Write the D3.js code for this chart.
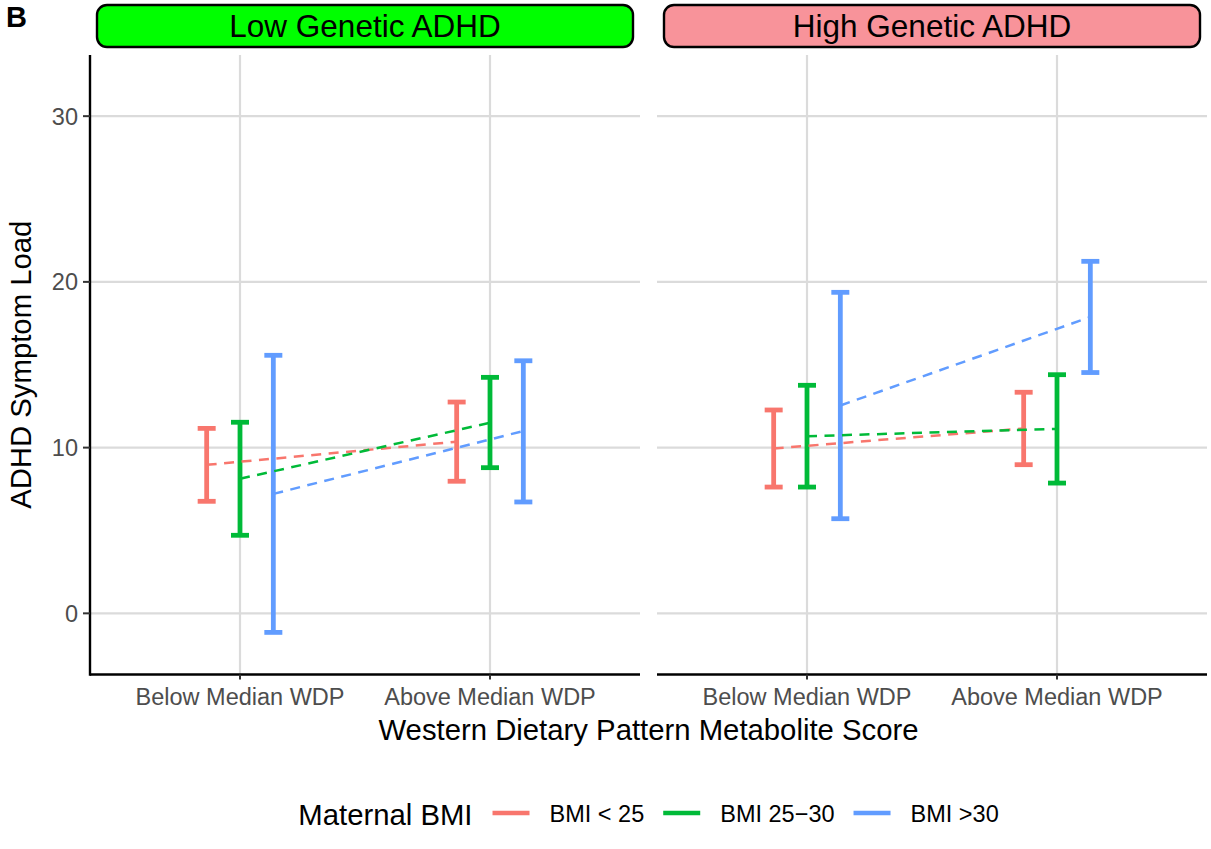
<!DOCTYPE html>
<html>
<head>
<meta charset="utf-8">
<script src="https://cdn.jsdelivr.net/npm/d3@7"></script>
<style>
  html, body { margin: 0; padding: 0; background: #fff; }
  svg { display: block; font-family: "Liberation Sans", Arial, sans-serif; }
</style>
</head>
<body>
<svg id="chart" width="1211" height="849"></svg>
<script>
// ---------- data ----------
const panels = ["Low Genetic ADHD", "High Genetic ADHD"];
const panelFills = ["#00FF00", "#F8939A"];
const wdpLevels = ["Below Median WDP", "Above Median WDP"];
const bmiGroups = ["BMI < 25", "BMI 25\u221230", "BMI >30"];
const bmiColors = ["#F8766D", "#00BA38", "#619CFF"];
const yTicks = [0, 10, 20, 30];

// means [panel][group][wdp]
const lowMean   = [[8.96, 10.36], [8.12, 11.50], [7.21, 11.00]];
const lowLower  = [[6.76, 7.97],  [4.71, 8.79],  [-1.15, 6.72]];
const lowUpper  = [[11.16, 12.75],[11.53, 14.24],[15.57, 15.24]];
const highMean  = [[9.95, 11.15], [10.69, 11.13],[12.54, 17.88]];
const highLower = [[7.62, 8.97],  [7.62, 7.86],  [5.71, 14.53]];
const highUpper = [[12.27, 13.34],[13.76, 14.40],[19.37, 21.24]];

const panelMeans = [lowMean, highMean];
const panelLower = [lowLower, highLower];
const panelUpper = [lowUpper, highUpper];

// ---------- layout ----------
const svg = d3.select("#chart");
const panelX = [[90, 640], [657, 1207]];
const panelTop = 55, panelBottom = 674.5;
const y = d3.scaleLinear().domain([-3.69, 33.69]).range([panelBottom, panelTop]);
const dodge = 0.4;
const gridColor = "#DBDBDB";
const tickFont = 23.5, titleFont = 29.3;

panels.forEach((pname, pi) => {
  const [x0, x1] = panelX[pi];
  const x = d3.scalePoint().domain(wdpLevels).range([x0, x1]).padding(0.6);
  const step = x.step();
  const g = svg.append("g");

  // grid
  g.selectAll("line.hgrid").data(yTicks).enter().append("line")
    .attr("x1", x0).attr("x2", x1)
    .attr("y1", d => y(d)).attr("y2", d => y(d))
    .attr("stroke", gridColor).attr("stroke-width", 2.2);
  g.selectAll("line.vgrid").data(wdpLevels).enter().append("line")
    .attr("x1", d => x(d)).attr("x2", d => x(d))
    .attr("y1", panelTop).attr("y2", panelBottom)
    .attr("stroke", gridColor).attr("stroke-width", 2.2);

  // error bars
  const bars = [];
  bmiGroups.forEach((grp, gi) => {
    wdpLevels.forEach((w, wi) => {
      const cx = x(w) + (gi - 1) * dodge / 3 * step;
      bars.push({gi, cx, mean: panelMeans[pi][gi][wi], lo: panelLower[pi][gi][wi], hi: panelUpper[pi][gi][wi]});
    });
  });
  const capHalf = 9;
  const eb = g.selectAll("g.eb").data(bars).enter().append("g")
    .attr("stroke", d => bmiColors[d.gi]).attr("stroke-width", 4.8).attr("fill", "none");
  eb.append("line").attr("x1", d => d.cx).attr("x2", d => d.cx)
    .attr("y1", d => y(d.lo)).attr("y2", d => y(d.hi));
  eb.append("line").attr("x1", d => d.cx - capHalf).attr("x2", d => d.cx + capHalf)
    .attr("y1", d => y(d.lo)).attr("y2", d => y(d.lo));
  eb.append("line").attr("x1", d => d.cx - capHalf).attr("x2", d => d.cx + capHalf)
    .attr("y1", d => y(d.hi)).attr("y2", d => y(d.hi));

  // dashed mean lines
  bmiGroups.forEach((grp, gi) => {
    const pts = wdpLevels.map((w, wi) => [x(w) + (gi - 1) * dodge / 3 * step, y(panelMeans[pi][gi][wi])]);
    g.append("path").attr("d", d3.line()(pts))
      .attr("stroke", bmiColors[gi]).attr("stroke-width", 2.5)
      .attr("stroke-dasharray", "10,7.5").attr("fill", "none");
  });

  // x axis line + ticks + labels
  g.append("line").attr("x1", x0).attr("x2", x1)
    .attr("y1", panelBottom).attr("y2", panelBottom)
    .attr("stroke", "#000").attr("stroke-width", 2.4);
  g.selectAll("line.xt").data(wdpLevels).enter().append("line")
    .attr("x1", d => x(d)).attr("x2", d => x(d))
    .attr("y1", panelBottom).attr("y2", panelBottom + 5)
    .attr("stroke", "#333").attr("stroke-width", 2);
  g.selectAll("text.xl").data(wdpLevels).enter().append("text")
    .attr("x", d => x(d)).attr("y", 705)
    .attr("text-anchor", "middle").attr("font-size", tickFont).attr("fill", "#4D4D4D")
    .text(d => d);

  // y axis on first panel only
  if (pi === 0) {
    g.append("line").attr("x1", x0).attr("x2", x0)
      .attr("y1", panelTop).attr("y2", panelBottom + 1.2)
      .attr("stroke", "#000").attr("stroke-width", 2.4);
    g.selectAll("line.yt").data(yTicks).enter().append("line")
      .attr("x1", x0 - 7).attr("x2", x0)
      .attr("y1", d => y(d)).attr("y2", d => y(d))
      .attr("stroke", "#333").attr("stroke-width", 2);
    g.selectAll("text.yl").data(yTicks).enter().append("text")
      .attr("x", x0 - 12).attr("y", d => y(d) + 8.4)
      .attr("text-anchor", "end").attr("font-size", tickFont).attr("fill", "#4D4D4D")
      .text(d => d);
  }

  // strip
  g.append("rect").attr("x", x0 + 7).attr("y", 5)
    .attr("width", (x1 - x0) - 14).attr("height", 42)
    .attr("rx", 10).attr("ry", 10)
    .attr("fill", panelFills[pi]).attr("stroke", "#000").attr("stroke-width", 2.4);
  g.append("text").attr("x", (x0 + x1) / 2).attr("y", 37)
    .attr("text-anchor", "middle").attr("font-size", 31.5).attr("fill", "#000")
    .text(pname);
});

// axis titles
svg.append("text").attr("x", (panelX[0][0] + panelX[1][1]) / 2).attr("y", 740)
  .attr("text-anchor", "middle").attr("font-size", titleFont).attr("fill", "#000")
  .text("Western Dietary Pattern Metabolite Score");
svg.append("text")
  .attr("transform", `translate(31,${(panelTop + panelBottom) / 2}) rotate(-90)`)
  .attr("text-anchor", "middle").attr("font-size", titleFont).attr("fill", "#000")
  .text("ADHD Symptom Load");

// panel tag
svg.append("text").attr("x", 6).attr("y", 27)
  .attr("font-size", 29).attr("font-weight", "bold").attr("fill", "#000").text("B");

// legend
const leg = svg.append("g");
const legTitle = leg.append("text").attr("x", 0).attr("y", 825)
  .attr("font-size", titleFont).attr("fill", "#000").text("Maternal BMI");
let cx = legTitle.node().getComputedTextLength() + 20;
bmiGroups.forEach((grp, gi) => {
  leg.append("line").attr("x1", cx).attr("x2", cx + 37)
    .attr("y1", 813).attr("y2", 813)
    .attr("stroke", bmiColors[gi]).attr("stroke-width", 4.5);
  cx += 37 + 20;
  const t = leg.append("text").attr("x", cx).attr("y", 821.5)
    .attr("font-size", tickFont).attr("fill", "#000").text(grp);
  cx += t.node().getComputedTextLength() + (gi < bmiGroups.length - 1 ? 19 : 0);
});
const legCenter = (panelX[0][0] + panelX[1][1]) / 2;
leg.attr("transform", `translate(${legCenter - cx / 2},0)`);
</script>
</body>
</html>
